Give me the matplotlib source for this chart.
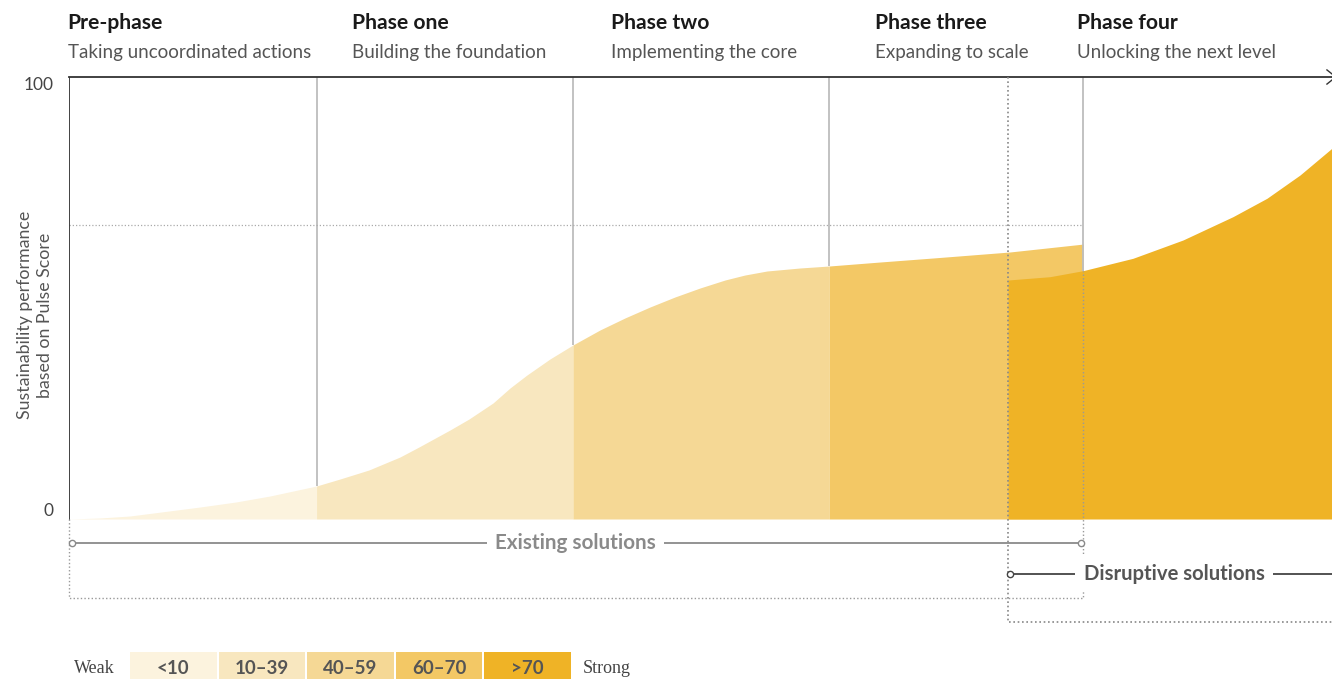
import numpy as np
import matplotlib
matplotlib.use("Agg")
import matplotlib.pyplot as plt

plt.rcParams['font.family'] = ['Lato', 'DejaVu Sans']

# progress along the journey (0-100) and Pulse Score of existing solutions
exist_x = [0, 2.45, 4.83, 7.92, 10.37, 13.22, 15.91, 19.6, 21.46, 23.75, 26.21,
           27.71, 30.17, 31.67, 33.57, 34.92, 36.26, 38.08, 39.9, 42.04, 44.02,
           46.0, 47.98, 49.96, 51.94, 53.52, 55.27, 57.88, 60.2, 64.21, 68.41,
           74.5, 80.3]
exist_y = [0, 0.23, 0.68, 1.81, 2.71, 3.85, 5.2, 7.47, 9.05, 11.09, 14.03,
           16.29, 20.14, 22.62, 26.24, 29.64, 32.58, 36.2, 39.37, 42.76, 45.48,
           47.96, 50.23, 52.26, 54.07, 55.2, 56.11, 56.79, 57.24, 58.14, 59.05,
           60.41, 62.2]

# disruptive solutions take over late in phase three
disr_x = [74.35, 77.67, 80.29, 84.24, 88.2, 92.16, 94.85, 97.47, 100]
disr_y = [54.07, 54.82, 56.18, 58.98, 63.12, 68.4, 72.56, 77.83, 83.9]

phase_edges = [0, 19.6, 39.9, 60.2, 80.3]
phase_titles = ["Pre-phase", "Phase one", "Phase two", "Phase three", "Phase four"]
phase_subtitles = ["Taking uncoordinated actions", "Building the foundation",
                   "Implementing the core", "Expanding to scale",
                   "Unlocking the next level"]
title_x = [-0.1, 22.4, 42.9, 63.8, 79.8]

score_bins = ["<10", "10\u201339", "40\u201359", "60\u201370", ">70"]
bin_colors = ["#FCF3DE", "#F8E7BF", "#F5D895", "#F3C865", "#EFB326"]

threshold = 66.5
disr_start = 74.35

fig = plt.figure(figsize=(13.32, 6.79), dpi=100)
W, H = 1332, 679
ymin = -27
ax = fig.add_axes([69 / W, (H - 519 - 27 * 4.42) / H, 1263 / W, (442 + 27 * 4.42) / H])
ax.set_xlim(0, 100)
ax.set_ylim(ymin, 100)
for s in ax.spines.values():
    s.set_visible(False)
ax.set_xticks([])

ex = np.array(exist_x)
ey = np.array(exist_y)

# existing curve, coloured by phase
for i in range(4):
    lo, hi = phase_edges[i], phase_edges[i + 1]
    m = (ex >= lo) & (ex <= hi)
    ax.fill_between(ex[m], 0, ey[m], color=bin_colors[i], lw=0, zorder=1)

ax.fill_between(disr_x, 0, disr_y, color=bin_colors[4], lw=0, zorder=2)

grey = "#bdbdbd"
dot = (0, (1, 1.6))
# phase separators
for x in phase_edges[1:4]:
    ax.vlines(x, np.interp(x, exist_x, exist_y), 100, color=grey, lw=1.3, zorder=0)
last = phase_edges[4]
ax.vlines(last, np.interp(last, disr_x, disr_y), 100, color=grey, lw=1.3, zorder=3)

ax.hlines(threshold, 0, last, color="#aaaaaa", lw=0.9, ls=dot, zorder=0)

# frame
ax.plot([0, 0], [0, 100], color="#333333", lw=1.3, zorder=4)
ax.plot([0, 100], [100, 100], color="#333333", lw=1.3, zorder=4, clip_on=False)
ax.plot([99.6, 100.3, 99.6], [101.6, 100, 98.4], color="#333333", lw=1.0, clip_on=False)

# dotted boxes around the solution groups
box_ex, box_dr = -17.9, -23.3
ax.plot([0, 0, last, last], [0, box_ex, box_ex, np.interp(last, disr_x, disr_y)],
        color="#999999", lw=1.0, ls=dot, zorder=4, clip_on=False)
ax.plot([disr_start, disr_start, 100], [100, box_dr, box_dr],
        color="#888888", lw=1.2, ls=dot, zorder=4, clip_on=False)

# brackets
ax.plot([0.25, 80.1], [-5.4, -5.4], color="#8a8a8a", lw=1.3, marker="o", ms=4.5,
        mfc="white", mec="#8a8a8a", mew=1.0, zorder=5, clip_on=False)
ax.text(40.1, -5.4, "Existing solutions", ha="center", va="center", fontsize=14.9,
        fontweight="bold", color="#8a8a8a", zorder=6,
        bbox=dict(fc="white", ec="none", pad=6))
ax.plot([disr_start + 0.15, 101], [-12.4, -12.4], color="#444444", lw=1.3, marker="o",
        ms=4.5, mfc="white", mec="#444444", mew=1.0, markevery=[0], zorder=5, clip_on=False)
ax.text(87.5, -12.4, "Disruptive solutions", ha="center", va="center", fontsize=14.6,
        fontweight="bold", color="#555555", zorder=6,
        bbox=dict(fc="white", ec="none", pad=6))

# y axis labels
ax.set_yticks([0, 100])
ax.set_yticklabels(["0", "100"], fontsize=12.5, color="#444444")
ax.tick_params(axis="y", length=0, pad=11)
for lbl, va in zip(ax.get_yticklabels(), ["bottom", "top"]):
    lbl.set_va(va)
fig.text(35 / W, 1 - 315 / H, "Sustainability performance\nbased on Pulse Score",
         rotation=90, ha="center", va="center", fontsize=12.8, color="#555555",
         linespacing=1.3)

# phase headers
for x, t, s in zip(title_x, phase_titles, phase_subtitles):
    ax.text(x, 112.3, t, ha="left", va="center", fontsize=15.2, fontweight="bold",
            color="#1a1a1a", clip_on=False)
    ax.text(x, 105.6, s, ha="left", va="center", fontsize=13.5, color="#555555",
            clip_on=False)

# score legend
lax = fig.add_axes([129 / W, 0, 443 / W, 27 / H])
lax.set_xlim(0, 5)
lax.set_ylim(0, 1)
lax.axis("off")
lax.bar(np.arange(5) + 0.5, [1] * 5, width=0.978, color=bin_colors, lw=0)
for i, lab in enumerate(score_bins):
    lax.text(i + 0.5, 0.38, lab, ha="center", va="center", fontsize=13.5,
             fontweight="bold", color="#555555")
lax.text(-0.16, 0.38, "Weak", ha="right", va="center", fontsize=13,
         family="Liberation Serif", color="#444444")
lax.text(5.12, 0.38, "Strong", ha="left", va="center", fontsize=13,
         family="Liberation Serif", color="#444444")

fig.savefig("out.png", dpi=100)
